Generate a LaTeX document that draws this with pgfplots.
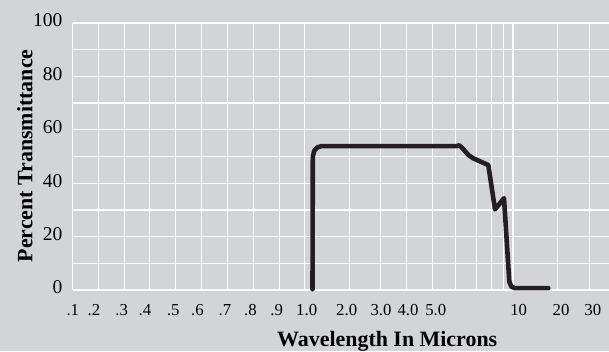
\documentclass[border=0pt]{standalone}
\usepackage{pgfplots}
\pgfplotsset{compat=1.18}
\usepackage{fontspec}
\setmainfont{Liberation Serif}
\definecolor{panel}{RGB}{211,212,214}
\definecolor{ink}{RGB}{35,31,32}

\begin{document}
\begin{tikzpicture}[x=1bp,y=1bp]
\fill[panel,use as bounding box] (0,0) rectangle (609,351);
\begin{axis}[
  at={(72.7bp,61bp)}, anchor=south west,
  scale only axis, width=536.3bp, height=267bp,
  xmin=72.7, xmax=609, ymin=0, ymax=100,
  clip=false,
  axis line style={draw=none},
  major tick length=0pt, minor tick length=0pt,
  /pgf/number format/assume math mode=true,
  % wavelength labels, placed along the non-uniform scale
  xtick={72.8,94,121.7,145,173.3,197.5,225,250.5,276.7,306.7,346.7,381,408,435.8,518.7,561,592.8},
  xticklabels={.1,.2,.3,.4,.5,.6,.7,.8,.9,1.0,2.0,3.0,4.0,5.0,10,20,30},
  % vertical rulings of the chart paper
  extra x ticks={72.7,98.4,124.1,149.8,175.7,201.6,227.3,253.2,279.2,304.7,349.4,380.8,406.7,432.6,455.8,476.3,491.4,503.4,513,557.8,589.3},
  extra x tick labels={},
  extra x tick style={xmajorgrids=true},
  ytick={0,20,...,100},
  minor ytick={10,30,...,90},
  ymajorgrids, yminorgrids,
  major grid style={white, line width=1.2bp},
  minor grid style={white, line width=1.2bp},
  xticklabel style={font=\fontsize{16.8}{16.8}\selectfont, anchor=base, inner sep=0pt, yshift=-25.7bp},
  yticklabel style={font=\fontsize{19.6}{19.6}\selectfont, anchor=base east, inner sep=0pt, xshift=-10bp, yshift=-3.8bp},
]
\addplot[ink, line width=4.6bp, line join=round, line cap=round] coordinates {
  (312.5,0.3) (312.8,50) (314.3,52.2) (317.3,53.4) (321.5,53.9)
  (457,53.9) (459,54.2) (461.5,53.5) (468.3,50.6) (473.3,49.3)
  (488.3,46.8) (495,30.2) (504,34.4) (509.3,3.1) (511.5,1.2)
  (515,0.7) (548.3,0.7)
};
\end{axis}
\node[rotate=90, anchor=base, font=\bfseries\fontsize{22}{22}\selectfont] at (32.3,195.1) {Percent Transmittance};
\node[anchor=base, font=\bfseries\fontsize{22}{22}\selectfont] at (387.2,5) {Wavelength In Microns};
\end{tikzpicture}
\end{document}
